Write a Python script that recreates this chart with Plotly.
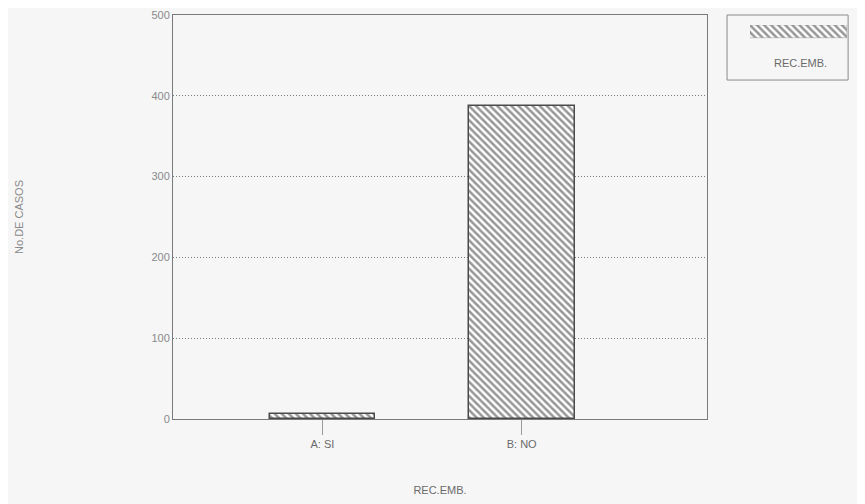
import plotly.graph_objects as go

# datos
categorias = ["A: SI", "B: NO"]
casos = [6, 388]
serie = "REC.EMB."
y_ticks = [0, 100, 200, 300, 400, 500]

gris = "#6a6a6a"
fondo = "#f6f6f6"
patron = dict(shape="\\", size=5, solidity=0.5, fgcolor="#2e2e2e", bgcolor="#ffffff")

fig = go.Figure()

fig.add_trace(go.Bar(
    x=categorias, y=casos,
    width=0.53,
    marker=dict(color="#ffffff", pattern=patron, line=dict(color="#4a4a4a", width=1.5)),
    showlegend=False,
))

# muestra de la leyenda (eje aparte)
fig.add_trace(go.Bar(
    x=[serie], y=[1],
    width=1,
    marker=dict(color="#ffffff", pattern=patron, line=dict(color="#888888", width=0.5)),
    xaxis="x2", yaxis="y2", showlegend=False, hoverinfo="skip",
))

# el cuerpo de la página añade 8 px arriba y a la izquierda
fig.update_layout(
    width=857, height=496,
    margin=dict(l=165, r=8, t=7, b=85),
    paper_bgcolor=fondo, plot_bgcolor=fondo,
    font=dict(family="Liberation Sans, Arial", size=11, color=gris),
    bargap=0,
    xaxis=dict(
        domain=[0, 0.7807], automargin=False,
        range=[-0.75, 1.93], showgrid=False, zeroline=False,
        showline=True, linecolor="#7a7a7a", linewidth=1, mirror=True,
        ticks="outside", ticklen=15, tickcolor="#9a9a9a",
        tickfont=dict(size=11, color=gris),
        title=dict(text="REC.EMB.", font=dict(size=11, color=gris), standoff=37),
    ),
    yaxis=dict(
        automargin=False, ticklabeloverflow="allow",
        range=[0, 500], tickvals=y_ticks, showgrid=True,
        gridcolor="#7a7a7a", griddash="1px,2px", gridwidth=1, zeroline=False,
        showline=True, linecolor="#7a7a7a", linewidth=1, mirror=True,
        tickfont=dict(size=11, color="#8a8a8a"),
        title=dict(text="No.DE CASOS", font=dict(size=11, color="#8a8a8a"), standoff=125),
    ),
    xaxis2=dict(domain=[0.8436, 0.9854], anchor="y2", visible=False, range=[-0.5, 0.5]),
    yaxis2=dict(domain=[0.942, 0.975], anchor="x2", visible=False, range=[0, 1]),
)

# caja de la leyenda
fig.add_shape(type="rect", xref="paper", yref="paper",
              x0=0.81, x1=0.987, y0=0.839, y1=1.0,
              line=dict(color="#8a8a8a", width=1), fillcolor="rgba(0,0,0,0)")
fig.add_annotation(text=serie, xref="paper", yref="paper", x=0.9167, y=0.882,
                   xanchor="center", yanchor="middle",
                   showarrow=False, font=dict(size=11, color=gris))

fig.write_html("out.html")
